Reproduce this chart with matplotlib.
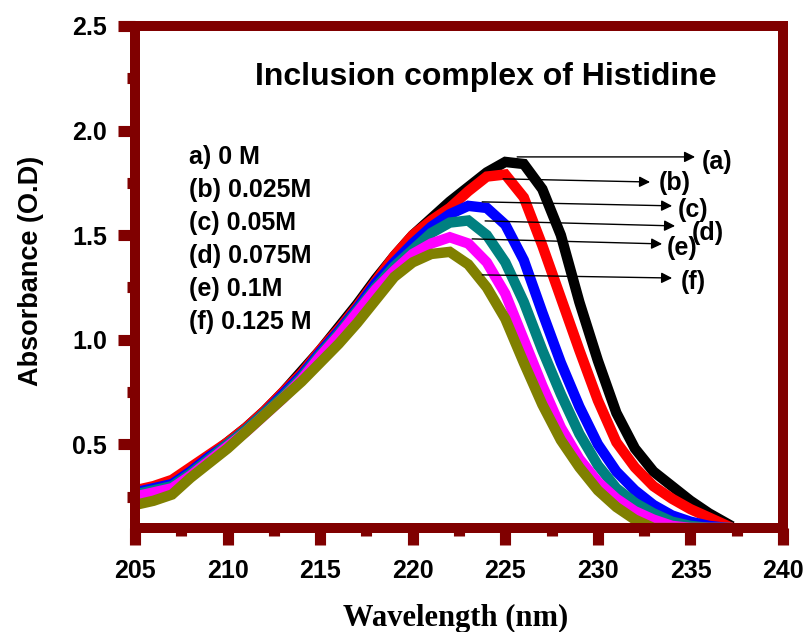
import matplotlib
matplotlib.use("Agg")
import matplotlib.pyplot as plt
import numpy as np

plt.rcParams['font.family'] = ['Liberation Sans', 'DejaVu Sans']
plt.rcParams['font.weight'] = 'bold'

# wavelength (nm)
wavelength = list(range(205, 238))

abs_a = [0.27, 0.29, 0.32, 0.38, 0.44, 0.51, 0.58, 0.66, 0.75, 0.85, 0.95,
         1.06, 1.17, 1.29, 1.40, 1.50, 1.58, 1.66, 1.73, 1.80, 1.85, 1.84,
         1.72, 1.50, 1.18, 0.90, 0.65, 0.48, 0.37, 0.30, 0.23, 0.17, 0.12]
abs_b = [0.28, 0.30, 0.33, 0.39, 0.45, 0.51, 0.58, 0.66, 0.75, 0.84, 0.95,
         1.05, 1.16, 1.28, 1.40, 1.50, 1.57, 1.63, 1.71, 1.78, 1.79, 1.68,
         1.45, 1.20, 0.95, 0.71, 0.51, 0.39, 0.30, 0.24, 0.19, 0.15, 0.11]
abs_c = [0.27, 0.29, 0.31, 0.37, 0.44, 0.50, 0.57, 0.65, 0.74, 0.83, 0.94,
         1.04, 1.15, 1.27, 1.37, 1.46, 1.54, 1.60, 1.64, 1.63, 1.55, 1.38,
         1.13, 0.89, 0.68, 0.50, 0.37, 0.28, 0.21, 0.16, 0.13, 0.11, 0.10]
abs_d = [0.26, 0.28, 0.30, 0.36, 0.43, 0.50, 0.57, 0.65, 0.73, 0.82, 0.93,
         1.03, 1.14, 1.25, 1.35, 1.43, 1.51, 1.56, 1.57, 1.50, 1.37, 1.18,
         0.95, 0.74, 0.55, 0.40, 0.29, 0.22, 0.17, 0.13, 0.11, 0.10, 0.10]
abs_e = [0.25, 0.27, 0.29, 0.35, 0.42, 0.49, 0.56, 0.64, 0.72, 0.81, 0.92,
         1.02, 1.13, 1.24, 1.33, 1.41, 1.46, 1.49, 1.46, 1.37, 1.22, 1.00,
         0.78, 0.58, 0.43, 0.32, 0.24, 0.18, 0.14, 0.11, 0.10, 0.10, 0.10]
abs_f = [0.21, 0.23, 0.26, 0.34, 0.41, 0.48, 0.56, 0.64, 0.72, 0.80, 0.89,
         0.98, 1.08, 1.19, 1.30, 1.37, 1.41, 1.42, 1.36, 1.25, 1.10, 0.89,
         0.69, 0.52, 0.39, 0.28, 0.20, 0.14, 0.10, 0.10, 0.10, 0.10, 0.10]

series = [abs_a, abs_b, abs_c, abs_d, abs_e, abs_f]
colors = ['#000000', '#ff0000', '#0000ff', '#008080', '#ff00ff', '#808000']
tags = ['(a)', '(b)', '(c)', '(d)', '(e)', '(f)']
legend_lines = ['a) 0 M', '(b) 0.025M', '(c) 0.05M', '(d) 0.075M',
                '(e) 0.1M', '(f) 0.125 M']

dark_red = '#800000'

fig = plt.figure(figsize=(8.06, 6.32), dpi=100)
ax = fig.add_axes([0.1675, 0.1646, 0.804, 0.7943])

for ys, c in zip(series, colors):
    ax.plot(wavelength, ys, color=c, linewidth=7.5, solid_joinstyle='miter')

# arrows from curves to the tags: (start, end, label position)
arrows = [((225.64, 1.874), (235.25, 1.874), (236.44, 1.85)),
          ((224.88, 1.769), (232.82, 1.754), (234.17, 1.75)),
          ((223.75, 1.659), (234.01, 1.640), (235.15, 1.62)),
          ((223.91, 1.568), (234.17, 1.544), (235.95, 1.51)),
          ((223.21, 1.482), (233.47, 1.458), (234.55, 1.437)),
          ((223.75, 1.310), (234.01, 1.295), (235.15, 1.276))]
for tag, (p0, p1, pl) in zip(tags, arrows):
    ax.annotate('', xy=p1, xytext=p0,
                arrowprops=dict(arrowstyle='-|>', color='black', lw=1.0,
                                mutation_scale=16, shrinkA=0, shrinkB=0))
    ax.text(pl[0], pl[1], tag, fontsize=18, fontweight='bold',
            ha='center', va='center')

# concentration list
for i, s in enumerate(legend_lines):
    ax.text(0.0835, 0.739 - i * 0.0657, s, transform=ax.transAxes,
            fontsize=18, fontweight='bold', ha='left', va='center')

ax.text(0.542, 0.898, 'Inclusion complex of Histidine', transform=ax.transAxes,
        fontsize=23, fontweight='bold', ha='center', va='center')

ax.set_xlim(205, 240)
ax.set_ylim(0.1, 2.5)
ax.set_xticks(np.arange(205, 241, 5))
ax.set_xticks(np.arange(207.5, 240, 5), minor=True)
ax.set_yticks([0.5, 1.0, 1.5, 2.0, 2.5])
ax.set_yticks([0.25, 0.75, 1.25, 1.75, 2.25], minor=True)
ax.set_yticklabels(['0.5', '1.0', '1.5', '2.0', '2.5'])

for side in ['left', 'right', 'top', 'bottom']:
    ax.spines[side].set_color(dark_red)
    ax.spines[side].set_linewidth(7.2)
    ax.spines[side].set_capstyle('projecting')

ax.tick_params(which='major', direction='out', length=12, width=8,
               color=dark_red, labelsize=18, pad=8)
ax.tick_params(axis='x', which='major', pad=10)
ax.tick_params(which='minor', direction='out', length=6, width=8,
               color=dark_red)
for lab in ax.get_xticklabels() + ax.get_yticklabels():
    lab.set_fontweight('bold')

ax.set_ylabel('Absorbance (O.D)', fontsize=19.5, fontweight='bold')
ax.yaxis.set_label_coords(-0.14, 0.513)
ax.set_xlabel('Wavelength (nm)', fontsize=22, fontweight='bold',
              family=['Liberation Serif', 'DejaVu Serif'])
ax.xaxis.set_label_coords(0.494, -0.152)

fig.savefig('out.png', dpi=100, facecolor='white')
